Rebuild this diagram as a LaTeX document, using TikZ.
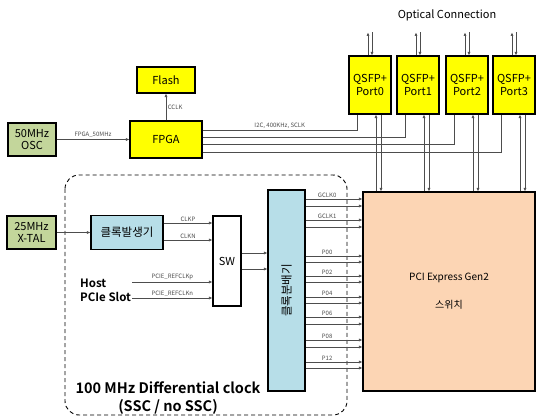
\documentclass[tikz,border=0pt]{standalone}
\usepackage{fontspec}
\setmainfont{Noto Sans CJK KR}[BoldFont={Noto Sans CJK KR Bold}]
\usetikzlibrary{arrows.meta, positioning, calc}
\definecolor{chipyellow}{HTML}{FFFF00}
\definecolor{oscgreen}{HTML}{C3D69B}
\definecolor{clkblue}{HTML}{B7DEE8}
\definecolor{swpeach}{HTML}{FCD5B4}
\definecolor{wire}{HTML}{4D4D4D}

\begin{document}
\begin{tikzpicture}[x=1pt, y=-1pt,
  block/.style={draw, line width=1.1pt, inner sep=0pt, align=center, font=\fontsize{11}{12.5}\selectfont},
  wireline/.style={draw=wire, line width=0.6pt},
  sig/.style={wireline, -{Latex[length=3.5pt,width=3pt]}},
  lbl/.style={font=\fontsize{6}{7}\selectfont, text=black!70, inner sep=1.5pt},
]
  \useasboundingbox (0,0) rectangle (536,417);

  % clock region
  \draw[dashed, line width=0.9pt, dash pattern=on 4pt off 3pt, rounded corners=14pt] (65,175) rectangle (347,415);

  % blocks
  \node[block, fill=oscgreen, minimum width=48pt, minimum height=33pt] (osc) at (32,139.5) {50MHz\\OSC};
  \node[block, fill=chipyellow, minimum width=72pt, minimum height=37pt] (fpga) at (166,139.5) {FPGA};
  \node[block, fill=chipyellow, minimum width=58pt, minimum height=26pt] (flash) at (166,80) {Flash};
  \foreach \i/\x in {0/370, 1/418, 2/467, 3/514}
    \node[block, fill=chipyellow, minimum width=42pt, minimum height=58pt, font=\fontsize{11}{13.5}\selectfont] (q\i) at (\x,85) {QSFP+\\Port\i};
  \node[font=\fontsize{11}{12}\selectfont] (optical) at (447,15) {Optical Connection};

  \node[block, fill=oscgreen, minimum width=49pt, minimum height=33pt] (xtal) at (31.5,232.5) {25MHz\\X-TAL};
  \node[block, fill=clkblue, minimum width=72pt, minimum height=34pt, font=\fontsize{11.5}{13}\selectfont] (gen) at (127,232.5) {클록발생기};
  \node[block, fill=white, minimum width=28pt, minimum height=90pt] (sw) at (227,261) {SW};
  \node[block, fill=clkblue, minimum width=37pt, minimum height=201pt] (dist) at (286.5,290.5) {};
  \node[rotate=90, font=\fontsize{11.5}{13}\selectfont] (distlbl) at (dist.center) {클록분배기};
  \node[block, fill=swpeach, minimum width=172pt, minimum height=199pt, font=\fontsize{10}{12}\selectfont] (pcie) at (449,291.5) {PCI Express Gen2\\[16pt]스위치};

  \node[font=\fontsize{11.5}{14}\selectfont\bfseries, align=left, anchor=west, inner sep=1pt] (host) at (79,290) {Host\\PCIe Slot};
  \node[font=\fontsize{14.5}{18}\selectfont\bfseries, align=center] (note) at (168,398) {100 MHz Differential clock\\(SSC / no SSC)};

  % FPGA side
  \draw[sig] (osc) -- node[lbl, above]{FPGA\_50MHz} (fpga);
  \draw[sig] (fpga) -- node[lbl, right]{CCLK} (flash);
  \draw[wireline] (fpga.east |- 0,130) -| node[lbl, above, pos=0.25]{I2C, 400KHz, SCLK} ([xshift=-13pt]q0.south);
  \draw[wireline] (fpga.east |- 0,137) -| ([xshift=-13pt]q1.south);
  \draw[wireline] (fpga.east |- 0,144) -| ([xshift=-13pt]q2.south);
  \draw[wireline] (fpga.east |- 0,152) -| ([xshift=-13pt]q3.south);

  % QSFP links
  \foreach \i in {0,...,3} {
    \draw[sig] ([xshift=-2pt]q\i.north) -- ++(0,-23);
    \draw[sig] ([xshift=2pt,yshift=23pt]q\i.north) -- ([xshift=2pt]q\i.north);
    \draw[sig] ([xshift=6pt]q\i.south |- pcie.north) -- ([xshift=6pt]q\i.south);
    \draw[sig] ([xshift=11pt]q\i.south) -- ([xshift=11pt]q\i.south |- pcie.north);
  }

  % clock path
  \draw[sig] (xtal) -- (gen);
  \draw[sig] (gen.east |- 0,223) -- node[lbl, above]{CLKP} (sw.west |- 0,223);
  \draw[sig] (gen.east |- 0,240) -- node[lbl, above]{CLKN} (sw.west |- 0,240);
  \draw[sig] (host.east |- 0,282) -- node[lbl, above]{PCIE\_REFCLKp} (sw.west |- 0,282);
  \draw[sig] (host.east |- 0,298) -- node[lbl, above]{PCIE\_REFCLKn} (sw.west |- 0,298);
  \draw[sig] (sw.east |- 0,253) -- (dist.west |- 0,253);
  \draw[sig] (sw.east |- 0,269) -- (dist.west |- 0,269);

  % clock outputs
  \foreach \name/\ya/\yb in {GCLK0/199/206, GCLK1/220/227, P00/256/262, P02/276/282,
                             P04/297/303, P06/317/324, P08/340/347, P12/362/368} {
    \draw[sig] (dist.east |- 0,\ya) -- node[lbl, above, pos=0.38]{\name} (pcie.west |- 0,\ya);
    \draw[sig] (dist.east |- 0,\yb) -- (pcie.west |- 0,\yb);
  }
\end{tikzpicture}
\end{document}
